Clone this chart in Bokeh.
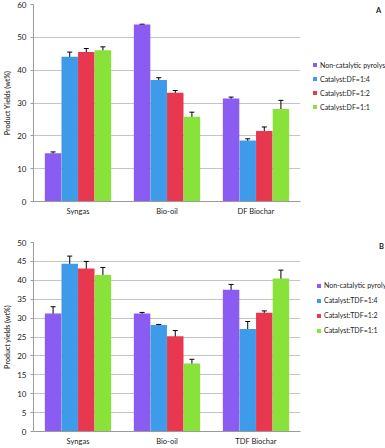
from bokeh.plotting import figure
from bokeh.models import (FactorRange, Whisker, ColumnDataSource, Legend, LegendItem,
                          Label, SingleIntervalTicker, Range1d)
from bokeh.transform import dodge
from bokeh.layouts import column, row
from bokeh.embed import file_html
from bokeh.resources import INLINE

# ---------- Data: panel A ----------
cats_a = ["Syngas", "Bio-oil", "DF Biochar"]
series_a = ["Non-catalytic pyrolysis", "Catalyst:DF=1:4", "Catalyst:DF=1:2", "Catalyst:DF=1:1"]
noncat_a = [14.7, 53.9, 31.4]
df14_a = [44.1, 37.0, 18.6]
df12_a = [45.5, 33.1, 21.5]
df11_a = [46.1, 25.8, 28.2]
noncat_a_err = [0.4, 0.1, 0.4]
df14_a_err = [1.4, 0.7, 0.5]
df12_a_err = [1.1, 0.7, 1.2]
df11_a_err = [1.0, 1.4, 2.6]

# ---------- Data: panel B ----------
cats_b = ["Syngas", "Bio-oil", "TDF Biochar"]
series_b = ["Non-catalytic pyrolysis", "Catalyst:TDF=1:4", "Catalyst:TDF=1:2", "Catalyst:TDF=1:1"]
noncat_b = [31.2, 31.2, 37.5]
tdf14_b = [44.4, 28.2, 27.1]
tdf12_b = [43.1, 25.2, 31.4]
tdf11_b = [41.4, 18.0, 40.5]
noncat_b_err = [1.8, 0.3, 1.4]
tdf14_b_err = [2.0, 0.1, 2.0]
tdf12_b_err = [1.9, 1.5, 0.5]
tdf11_b_err = [2.0, 1.1, 2.2]

colors = ["#8a5cf2", "#3d9be9", "#e8384f", "#88e23a"]
FONT = "Lato"
CHART_FW = 267
LEG_FW = 89


def make_chart(cats, series, vals, errs, ymax, step, ylabel, fh, bt, bb):
    p = figure(title=None, x_range=FactorRange(*cats), y_range=Range1d(0, ymax),
               frame_width=CHART_FW, frame_height=fh,
               output_backend="svg", toolbar_location=None,
               min_border_left=27, min_border_top=bt, min_border_bottom=bb,
               min_border_right=2)
    p.outline_line_color = None
    offs = [-0.28, -0.093, 0.093, 0.28]
    for i, (name, v, e) in enumerate(zip(series, vals, errs)):
        src = ColumnDataSource(dict(x=cats, top=v,
                                    upper=[a + b for a, b in zip(v, e)],
                                    lower=[a - b for a, b in zip(v, e)]))
        p.vbar(x=dodge("x", offs[i], range=p.x_range), top="top", width=0.185,
               source=src, fill_color=colors[i], line_color=None)
        wk = Whisker(base=dodge("x", offs[i], range=p.x_range), upper="upper",
                     lower="lower", source=src, line_color="black", line_width=1)
        wk.upper_head.size = 5
        wk.lower_head.size = 5
        wk.upper_head.line_color = "black"
        wk.lower_head.line_color = "black"
        p.add_layout(wk)

    p.yaxis.ticker = SingleIntervalTicker(interval=step)
    p.yaxis.axis_label = ylabel
    p.yaxis.axis_label_text_font = FONT
    p.yaxis.axis_label_text_font_style = "bold"
    p.yaxis.axis_label_text_font_size = "7px"
    p.yaxis.axis_label_standoff = 3
    p.yaxis.major_label_text_font = FONT
    p.yaxis.major_label_text_font_size = "8px"
    p.yaxis.major_label_text_color = "#222222"
    p.yaxis.major_label_standoff = 3
    p.yaxis.major_tick_out = 3
    p.yaxis.major_tick_in = 0
    p.yaxis.minor_tick_line_color = None
    p.yaxis.axis_line_color = "#9a9a9a"
    p.yaxis.major_tick_line_color = "#9a9a9a"

    p.xaxis.major_label_text_font = FONT
    p.xaxis.major_label_text_font_size = "7.5px"
    p.xaxis.major_label_text_color = "#222222"
    p.xaxis.major_label_standoff = 5
    p.xaxis.major_tick_out = 0
    p.xaxis.major_tick_in = 0
    p.xaxis.major_tick_line_color = None
    p.xaxis.axis_line_color = "#9a9a9a"
    p.xgrid.grid_line_color = None
    p.ygrid.grid_line_color = "#c4c4c4"
    p.ygrid.grid_line_width = 1.2
    return p


def make_legend(series, letter, fh, bt, bb, leg_loc, label_h, letter_xy):
    q = figure(title=None, frame_width=LEG_FW, frame_height=fh,
               x_range=Range1d(0, 1), y_range=Range1d(0, 1),
               output_backend="svg", toolbar_location=None,
               x_axis_type=None, y_axis_type=None,
               min_border_left=0, min_border_right=0, min_border_top=bt,
               min_border_bottom=bb)
    q.outline_line_color = None
    q.grid.grid_line_color = None
    items = []
    for i, name in enumerate(series):
        # zero-height placeholder bar: only provides the legend swatch
        r = q.vbar(x=[0], top=[0], width=0, fill_color=colors[i], line_color=None)
        items.append(LegendItem(label=name, renderers=[r]))
    leg = Legend(items=items, location=leg_loc, padding=0, margin=0,
                 glyph_width=5, glyph_height=5, label_standoff=3, spacing=5,
                 label_height=label_h, label_text_font_size="7px",
                 label_text_font=FONT, label_text_color="#222222",
                 label_text_baseline="middle",
                 border_line_color=None, background_fill_alpha=0)
    q.add_layout(leg)
    q.add_layout(Label(x=letter_xy[0], y=letter_xy[1],
                       text=letter, text_font=FONT, text_font_style="bold",
                       text_font_size="7.5px", text_align="center",
                       text_baseline="middle", text_color="#222222"))
    return q


pa = make_chart(cats_a, series_a, [noncat_a, df14_a, df12_a, df11_a],
                [noncat_a_err, df14_a_err, df12_a_err, df11_a_err],
                60, 10, "Product Yields (wt%)", 197, 4, 19)
la = make_legend(series_a, "A", 197, 4, 19, (10, 90), 9, (0.854, 0.97))
pb = make_chart(cats_b, series_b, [noncat_b, tdf14_b, tdf12_b, tdf11_b],
                [noncat_b_err, tdf14_b_err, tdf12_b_err, tdf11_b_err],
                50, 5, "Product yields (wt%)", 189, 22, 17)
lb = make_legend(series_b, "B", 189, 22, 17, (14, 96), 10, (0.888, 0.98))

layout = column(row(pa, la, spacing=0), row(pb, lb, spacing=0), spacing=0)
open("out.html", "w").write(file_html(layout, INLINE))
